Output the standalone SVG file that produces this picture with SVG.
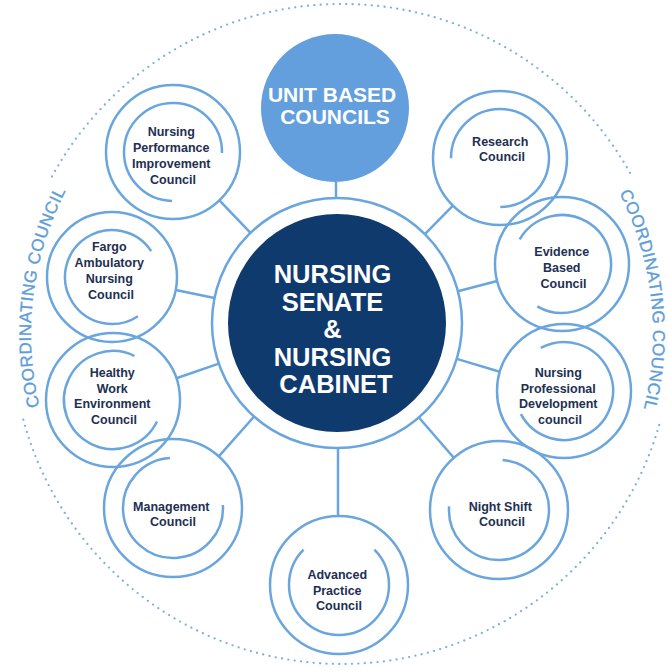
<svg xmlns="http://www.w3.org/2000/svg" width="668" height="671" viewBox="0 0 668 671">
  <style>
    .ring { fill: none; stroke: #6aa6dd; stroke-width: 2.5; }
    .arc { fill: none; stroke: #6aa6dd; stroke-width: 2.5; stroke-linecap: butt; }
    .link { stroke: #6aa6dd; stroke-width: 2.5; fill: none; }
    .dots { fill: none; stroke: #7ab0e0; stroke-width: 2.3; stroke-linecap: round; stroke-dasharray: 0 6.4; }
    .label { font-family: "Liberation Sans", Arial, sans-serif; font-weight: bold; font-size: 12.5px; fill: #222f52; text-anchor: middle; }
    .big { font-family: "Liberation Sans", Arial, sans-serif; font-weight: bold; fill: #ffffff; text-anchor: middle; }
    .outer { font-family: "Liberation Sans", Arial, sans-serif; font-size: 17px; fill: #5d9dd9; stroke: #5d9dd9; stroke-width: 0.35; letter-spacing: 0.5px; }
  </style>
  <defs>
    <path id="leftArc" d="M 81.2 503.4 A 311 311 0 0 1 129.9 106.5"/>
    <path id="rightArc" d="M 556.1 108.4 A 311 311 0 0 1 601.3 505.6"/>
  </defs>

  <rect width="668" height="671" fill="#ffffff"/>

  <!-- outer coordinating boundary -->
  <g id="coordinating-council">
    <path class="dots" d="M 52 176.5 A 330 330 0 0 1 632 176.5"/>
    <path class="dots" d="M 659.2 425 A 330 330 0 0 1 22.5 416.6"/>
    <text class="outer"><textPath href="#leftArc" startOffset="50%" text-anchor="middle">COORDINATING COUNCIL</textPath></text>
    <text class="outer"><textPath href="#rightArc" startOffset="50%" text-anchor="middle">COORDINATING COUNCIL</textPath></text>
  </g>

  <!-- spokes from the central ring to each council -->
  <g id="connectors">
    <line class="link" x1="336" y1="182" x2="336" y2="198"/>
    <line class="link" x1="250.5" y1="232.8" x2="219.4" y2="200.4"/>
    <line class="link" x1="424.9" y1="234.1" x2="452.9" y2="205.7"/>
    <line class="link" x1="214.5" y1="298.0" x2="175.7" y2="290.0"/>
    <line class="link" x1="457.9" y1="291.3" x2="497.2" y2="281.0"/>
    <line class="link" x1="218.8" y1="363.6" x2="176.4" y2="378.2"/>
    <line class="link" x1="456.7" y1="358.9" x2="499.8" y2="371.8"/>
    <line class="link" x1="254.1" y1="416.5" x2="218.8" y2="456.4"/>
    <line class="link" x1="338" y1="448" x2="338" y2="516"/>
    <line class="link" x1="418.9" y1="417.5" x2="453.8" y2="457.8"/>
  </g>

  <g id="senate-cabinet">
    <circle class="ring" cx="337" cy="323" r="125"/>
    <circle cx="337" cy="323" r="109" fill="#0f3a6e"/>
    <text class="big" font-size="25.5">
      <tspan x="336" y="283.3">NURSING</tspan>
      <tspan x="336" y="310.7">SENATE</tspan>
      <tspan x="336" y="338.3">&amp;</tspan>
      <tspan x="336" y="366">NURSING</tspan>
      <tspan x="336" y="392.7">CABINET</tspan>
    </text>
  </g>

  <g id="unit-based">
    <circle cx="335" cy="108" r="74" fill="#629fdc"/>
    <text class="big" font-size="21">
      <tspan x="335" y="102">UNIT BASED</tspan>
      <tspan x="335" y="124">COUNCILS</tspan>
    </text>
  </g>

  <g id="performance-improvement">
    <circle class="ring" cx="173" cy="152" r="67"/>
    <path class="arc" d="M 172 201 A 49 49 0 1 1 222 153"/>
    <text class="label">
      <tspan x="173" y="136">Nursing</tspan>
      <tspan x="173" y="152">Performance</tspan>
      <tspan x="173" y="168">Improvement</tspan>
      <tspan x="173" y="184">Council</tspan>
    </text>
  </g>

  <g id="research">
    <circle class="ring" cx="500" cy="158" r="67"/>
    <path class="arc" d="M 451 158.3 A 49 49 0 1 1 500.3 207"/>
    <text class="label">
      <tspan x="502" y="146">Research</tspan>
      <tspan x="502" y="161">Council</tspan>
    </text>
  </g>

  <g id="fargo-ambulatory">
    <circle class="ring" cx="112" cy="277" r="65"/>
    <path class="arc" d="M 137.9 316.2 A 47 47 0 1 1 151.2 251.1"/>
    <text class="label">
      <tspan x="111" y="251">Fargo</tspan>
      <tspan x="111" y="267">Ambulatory</tspan>
      <tspan x="111" y="283">Nursing</tspan>
      <tspan x="111" y="298.5">Council</tspan>
    </text>
  </g>

  <g id="evidence-based">
    <circle class="ring" cx="562" cy="264" r="67"/>
    <path class="arc" d="M 519.7 239.3 A 49 49 0 1 1 537.3 306.3"/>
    <text class="label">
      <tspan x="563.5" y="256">Evidence</tspan>
      <tspan x="563.5" y="272">Based</tspan>
      <tspan x="563.5" y="288">Council</tspan>
    </text>
  </g>

  <g id="healthy-work">
    <circle class="ring" cx="113" cy="400" r="67"/>
    <path class="arc" d="M 157 421.5 A 49 49 0 1 1 134.5 356"/>
    <text class="label">
      <tspan x="114" y="377">Healthy</tspan>
      <tspan x="114" y="393">Work</tspan>
      <tspan x="114" y="408">Environment</tspan>
      <tspan x="114" y="424">Council</tspan>
    </text>
  </g>

  <g id="professional-development">
    <circle class="ring" cx="564" cy="391" r="67"/>
    <path class="arc" d="M 540.8 347.9 A 49 49 0 1 1 520.9 414.2"/>
    <text class="label">
      <tspan x="560" y="377">Nursing</tspan>
      <tspan x="560" y="393">Professional</tspan>
      <tspan x="560" y="408">Development</tspan>
      <tspan x="560" y="424">council</tspan>
    </text>
  </g>

  <g id="management">
    <circle class="ring" cx="173" cy="508" r="69"/>
    <path class="arc" d="M 222.9 505 A 50 50 0 1 1 170 458.1"/>
    <text class="label">
      <tspan x="173" y="510.5">Management</tspan>
      <tspan x="173" y="525.5">Council</tspan>
    </text>
  </g>

  <g id="advanced-practice">
    <circle class="ring" cx="339" cy="585" r="69"/>
    <path class="arc" d="M 374.4 549.6 A 50 50 0 1 1 303.6 549.6"/>
    <text class="label">
      <tspan x="339" y="578.5">Advanced</tspan>
      <tspan x="339" y="594.5">Practice</tspan>
      <tspan x="339" y="610">Council</tspan>
    </text>
  </g>

  <g id="night-shift">
    <circle class="ring" cx="499" cy="510" r="69"/>
    <path class="arc" d="M 502.6 460.1 A 50 50 0 1 1 449.1 506.4"/>
    <text class="label">
      <tspan x="502" y="510.5">Night Shift</tspan>
      <tspan x="502" y="525.5">Council</tspan>
    </text>
  </g>
</svg>
